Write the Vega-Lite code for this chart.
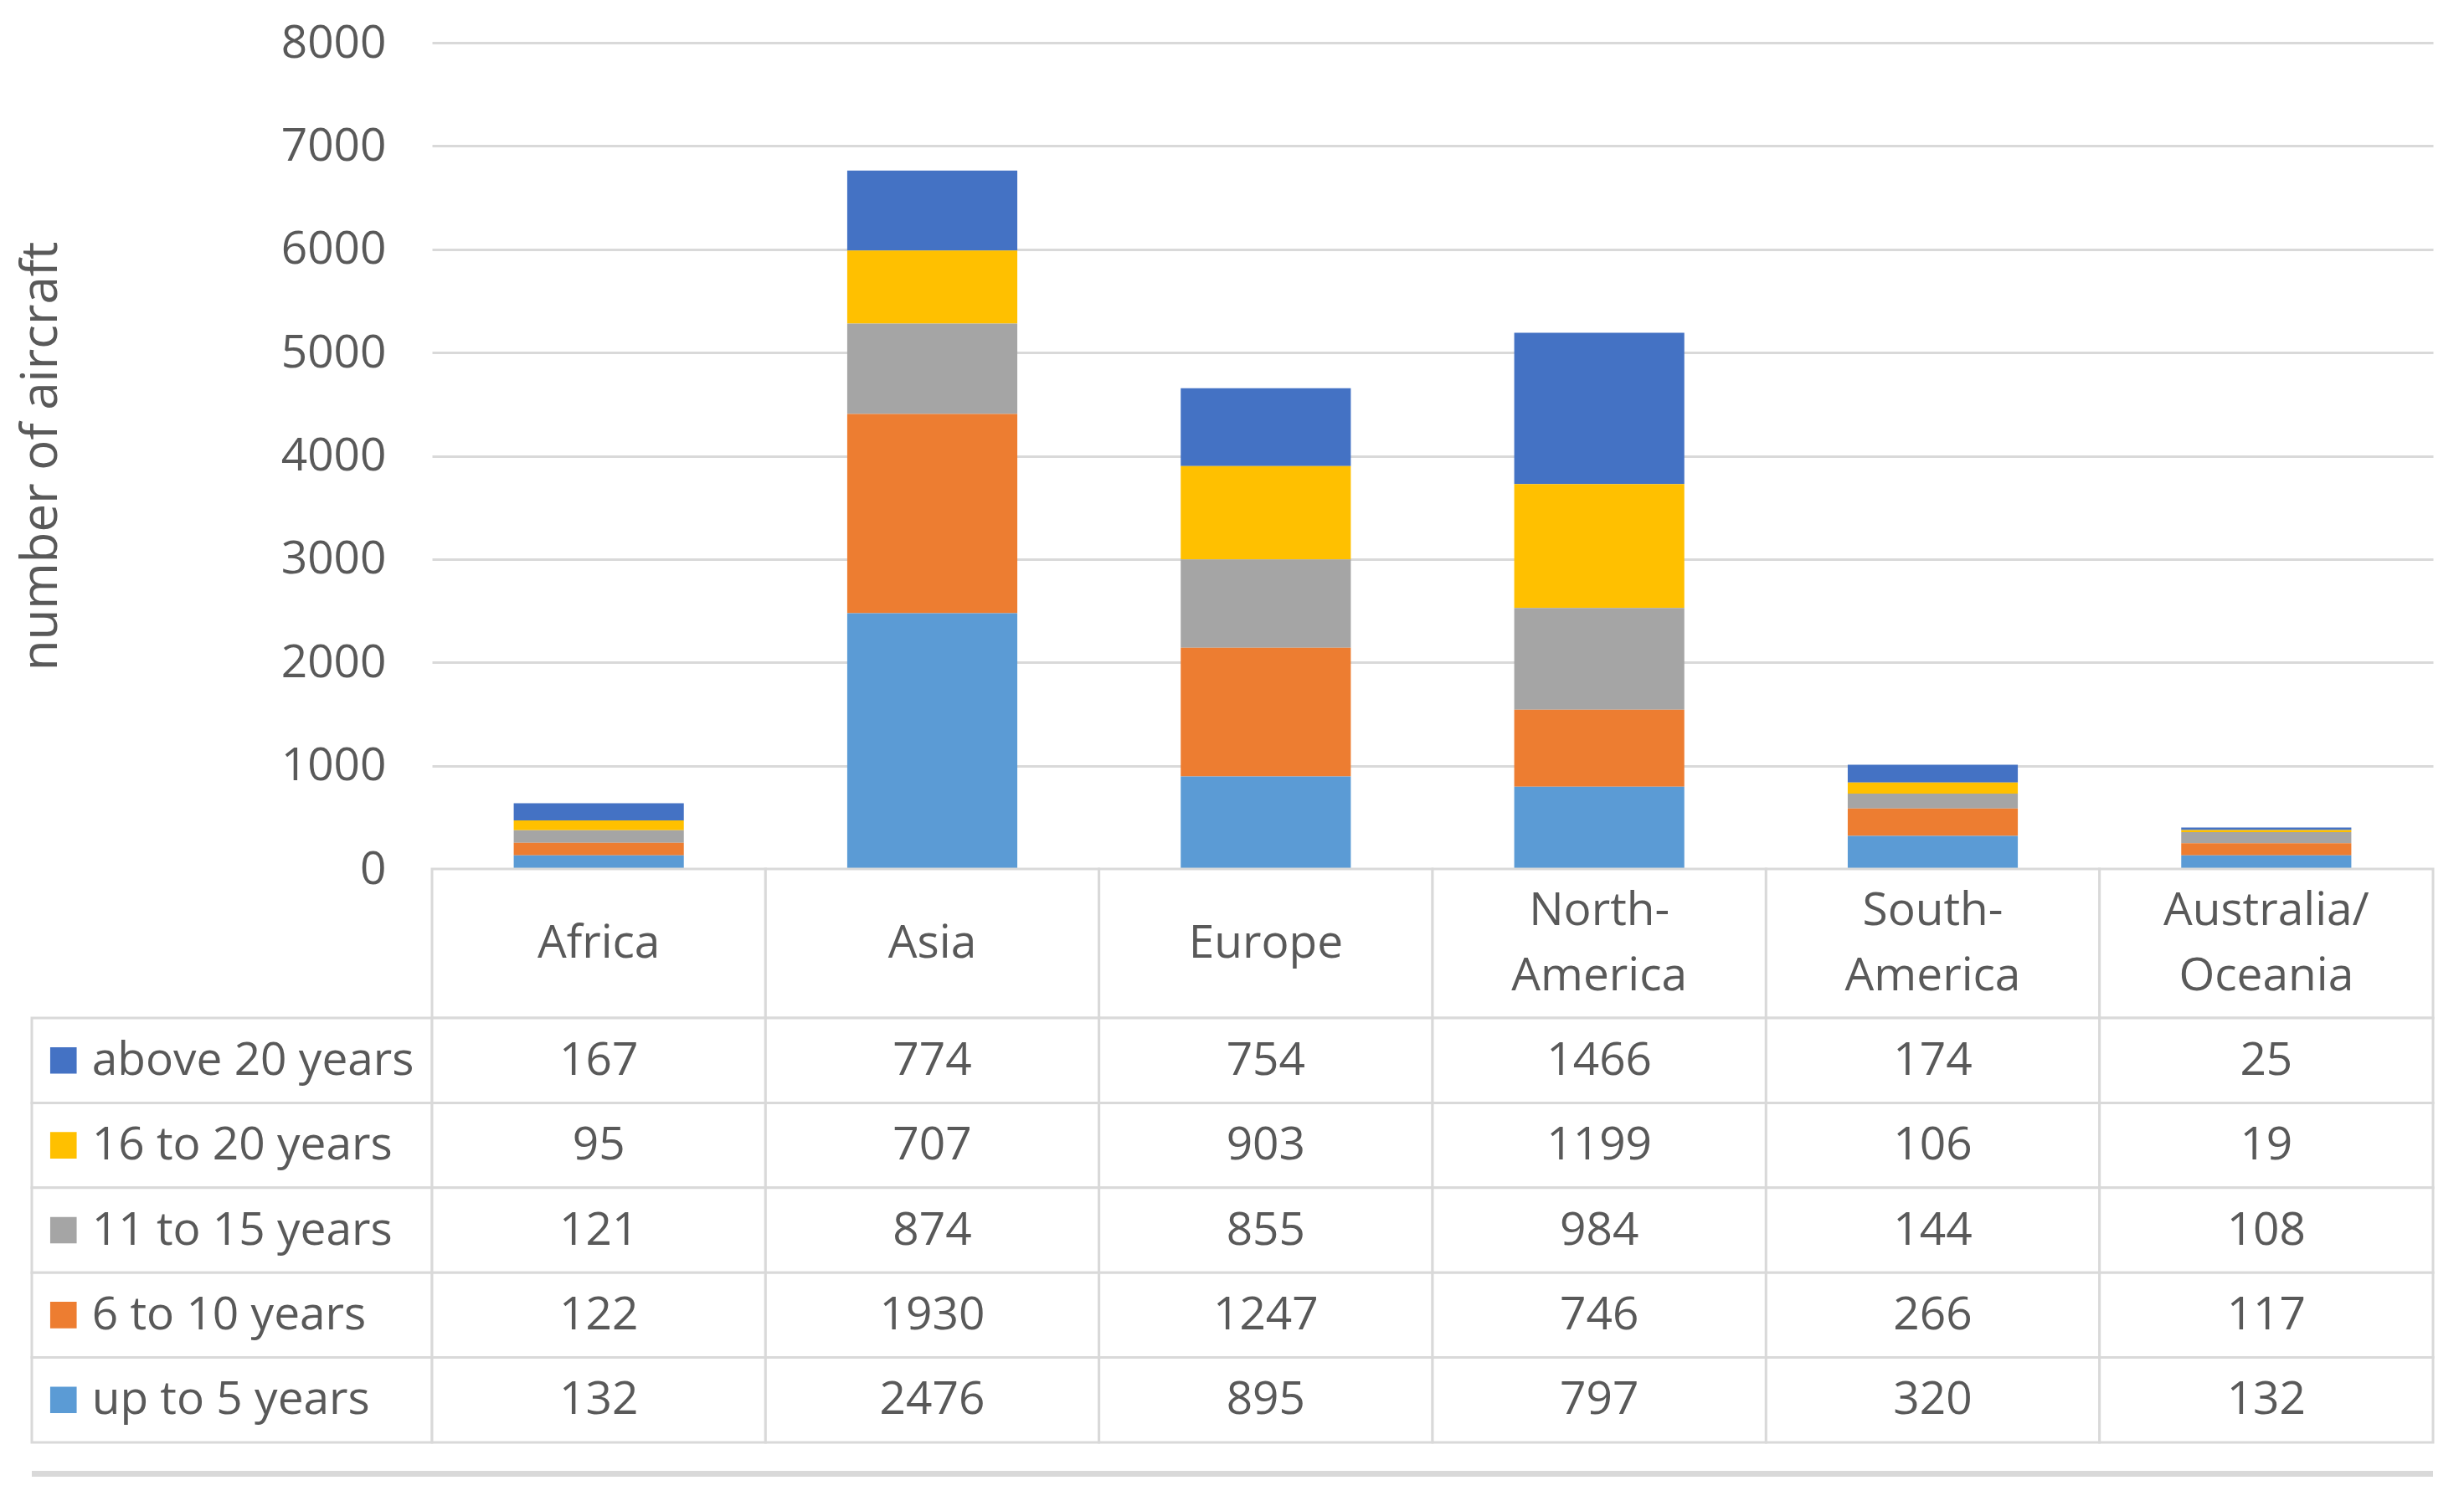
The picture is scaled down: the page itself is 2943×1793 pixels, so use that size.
{
  "$schema": "https://vega.github.io/schema/vega-lite/v6.json",
  "background": "white",
  "padding": {"left": 19, "top": 24, "right": 5, "bottom": 5},
  "datasets": {
    "aircraft": [
      {"region": "Africa", "age": "above 20 years", "ageOrder": 5, "count": 167},
      {"region": "Asia", "age": "above 20 years", "ageOrder": 5, "count": 774},
      {"region": "Europe", "age": "above 20 years", "ageOrder": 5, "count": 754},
      {"region": "North-America", "age": "above 20 years", "ageOrder": 5, "count": 1466},
      {"region": "South-America", "age": "above 20 years", "ageOrder": 5, "count": 174},
      {"region": "Australia/Oceania", "age": "above 20 years", "ageOrder": 5, "count": 25},
      {"region": "Africa", "age": "16 to 20 years", "ageOrder": 4, "count": 95},
      {"region": "Asia", "age": "16 to 20 years", "ageOrder": 4, "count": 707},
      {"region": "Europe", "age": "16 to 20 years", "ageOrder": 4, "count": 903},
      {"region": "North-America", "age": "16 to 20 years", "ageOrder": 4, "count": 1199},
      {"region": "South-America", "age": "16 to 20 years", "ageOrder": 4, "count": 106},
      {"region": "Australia/Oceania", "age": "16 to 20 years", "ageOrder": 4, "count": 19},
      {"region": "Africa", "age": "11 to 15 years", "ageOrder": 3, "count": 121},
      {"region": "Asia", "age": "11 to 15 years", "ageOrder": 3, "count": 874},
      {"region": "Europe", "age": "11 to 15 years", "ageOrder": 3, "count": 855},
      {"region": "North-America", "age": "11 to 15 years", "ageOrder": 3, "count": 984},
      {"region": "South-America", "age": "11 to 15 years", "ageOrder": 3, "count": 144},
      {"region": "Australia/Oceania", "age": "11 to 15 years", "ageOrder": 3, "count": 108},
      {"region": "Africa", "age": "6 to 10 years", "ageOrder": 2, "count": 122},
      {"region": "Asia", "age": "6 to 10 years", "ageOrder": 2, "count": 1930},
      {"region": "Europe", "age": "6 to 10 years", "ageOrder": 2, "count": 1247},
      {"region": "North-America", "age": "6 to 10 years", "ageOrder": 2, "count": 746},
      {"region": "South-America", "age": "6 to 10 years", "ageOrder": 2, "count": 266},
      {"region": "Australia/Oceania", "age": "6 to 10 years", "ageOrder": 2, "count": 117},
      {"region": "Africa", "age": "up to 5 years", "ageOrder": 1, "count": 132},
      {"region": "Asia", "age": "up to 5 years", "ageOrder": 1, "count": 2476},
      {"region": "Europe", "age": "up to 5 years", "ageOrder": 1, "count": 895},
      {"region": "North-America", "age": "up to 5 years", "ageOrder": 1, "count": 797},
      {"region": "South-America", "age": "up to 5 years", "ageOrder": 1, "count": 320},
      {"region": "Australia/Oceania", "age": "up to 5 years", "ageOrder": 1, "count": 132}
    ],
    "regions": [
      {"region": "Africa", "label": "Africa"},
      {"region": "Asia", "label": "Asia"},
      {"region": "Europe", "label": "Europe"},
      {"region": "North-America", "label": "North-\nAmerica"},
      {"region": "South-America", "label": "South-\nAmerica"},
      {"region": "Australia/Oceania", "label": "Australia/\nOceania"}
    ],
    "ages": [
      {"age": "above 20 years"},
      {"age": "16 to 20 years"},
      {"age": "11 to 15 years"},
      {"age": "6 to 10 years"},
      {"age": "up to 5 years"}
    ]
  },
  "columns": 2,
  "spacing": 0,
  "bounds": "flush",
  "align": "each",
  "concat": [
    {
      "width": 1, "height": 1,
      "data": {"values": []},
      "mark": {"type": "point", "opacity": 0},
      "encoding": {}
    },
    {
      "width": 2390, "height": 987,
      "data": {"name": "aircraft"},
      "mark": {"type": "bar"},
      "encoding": {
        "x": {
          "field": "region", "type": "nominal",
          "sort": ["Africa", "Asia", "Europe", "North-America", "South-America", "Australia/Oceania"],
          "scale": {"paddingInner": 0.49, "paddingOuter": 0.245},
          "axis": null
        },
        "y": {
          "field": "count", "type": "quantitative", "stack": "zero",
          "scale": {"domain": [0, 8000], "nice": false},
          "axis": {
            "values": [0, 1000, 2000, 3000, 4000, 5000, 6000, 7000, 8000],
            "format": "d",
            "title": "number of aircraft",
            "grid": true, "gridColor": "#d9d9d9", "gridWidth": 3,
            "domain": false, "ticks": false,
            "labelFont": "Open Sans", "labelFontSize": 55, "labelColor": "#595959", "labelPadding": 55,
            "titleFont": "Open Sans", "titleFontSize": 60, "titleColor": "#595959", "titleFontWeight": "normal",
            "titlePadding": 255
          }
        },
        "order": {"field": "ageOrder", "type": "quantitative", "sort": "ascending"},
        "color": {
          "field": "age", "type": "nominal",
          "scale": {
            "domain": ["up to 5 years", "6 to 10 years", "11 to 15 years", "16 to 20 years", "above 20 years"],
            "range": ["#5B9BD5", "#ED7D31", "#A5A5A5", "#FFC000", "#4472C4"]
          },
          "legend": null
        }
      }
    },
    {
      "width": 1, "height": 1,
      "data": {"values": []},
      "mark": {"type": "point", "opacity": 0},
      "encoding": {}
    },
    {
      "width": 2390, "height": 178,
      "data": {"name": "regions"},
      "encoding": {
        "x": {
          "field": "region", "type": "nominal",
          "sort": ["Africa", "Asia", "Europe", "North-America", "South-America", "Australia/Oceania"],
          "scale": {"paddingInner": 0, "paddingOuter": 0},
          "axis": null
        }
      },
      "layer": [
        {"mark": {"type": "rect", "fill": "white", "stroke": "#d9d9d9", "strokeWidth": 3}},
        {
          "transform": [{"filter": "indexof(datum.label, '\\n') < 0"}],
          "mark": {"type": "text", "font": "Open Sans", "fontSize": 55, "color": "#595959", "baseline": "middle"},
          "encoding": {"text": {"field": "label"}}
        },
        {
          "transform": [{"filter": "indexof(datum.label, '\\n') >= 0"}],
          "mark": {"type": "text", "font": "Open Sans", "fontSize": 55, "color": "#595959", "baseline": "middle", "lineBreak": "\n", "lineHeight": 78, "dy": -39},
          "encoding": {"text": {"field": "label"}}
        }
      ]
    },
    {
      "width": 478, "height": 507,
      "data": {"name": "ages"},
      "encoding": {
        "y": {
          "field": "age", "type": "nominal",
          "sort": ["above 20 years", "16 to 20 years", "11 to 15 years", "6 to 10 years", "up to 5 years"],
          "scale": {"paddingInner": 0, "paddingOuter": 0},
          "axis": null
        }
      },
      "layer": [
        {"mark": {"type": "rect", "fill": "white", "stroke": "#d9d9d9", "strokeWidth": 3}},
        {
          "mark": {"type": "point", "shape": "square", "filled": true, "size": 1000, "opacity": 1},
          "encoding": {
            "x": {"datum": 0.079, "type": "quantitative", "scale": {"domain": [0, 1]}, "axis": null},
            "color": {
              "field": "age", "type": "nominal",
              "scale": {
                "domain": ["up to 5 years", "6 to 10 years", "11 to 15 years", "16 to 20 years", "above 20 years"],
                "range": ["#5B9BD5", "#ED7D31", "#A5A5A5", "#FFC000", "#4472C4"]
              },
              "legend": null
            }
          }
        },
        {
          "mark": {"type": "text", "font": "Open Sans", "fontSize": 55, "color": "#595959", "align": "left", "baseline": "middle"},
          "encoding": {
            "x": {"datum": 0.15, "type": "quantitative", "scale": {"domain": [0, 1]}, "axis": null},
            "text": {"field": "age"}
          }
        }
      ]
    },
    {
      "width": 2390, "height": 507,
      "data": {"name": "aircraft"},
      "encoding": {
        "x": {
          "field": "region", "type": "nominal",
          "sort": ["Africa", "Asia", "Europe", "North-America", "South-America", "Australia/Oceania"],
          "scale": {"paddingInner": 0, "paddingOuter": 0},
          "axis": null
        },
        "y": {
          "field": "age", "type": "nominal",
          "sort": ["above 20 years", "16 to 20 years", "11 to 15 years", "6 to 10 years", "up to 5 years"],
          "scale": {"paddingInner": 0, "paddingOuter": 0},
          "axis": null
        }
      },
      "layer": [
        {"mark": {"type": "rect", "fill": "white", "stroke": "#d9d9d9", "strokeWidth": 3}},
        {
          "mark": {"type": "text", "font": "Open Sans", "fontSize": 55, "color": "#595959", "baseline": "middle"},
          "encoding": {"text": {"field": "count", "type": "quantitative"}}
        }
      ]
    },
    {
      "width": 1, "height": 34,
      "data": {"values": []},
      "mark": {"type": "point", "opacity": 0},
      "encoding": {}
    },
    {
      "width": 1, "height": 34,
      "data": {"values": []},
      "mark": {"type": "point", "opacity": 0},
      "encoding": {}
    },
    {
      "width": 478, "height": 7,
      "data": {"values": [{}]},
      "mark": {"type": "rect", "fill": "#d9d9d9"},
      "encoding": {}
    },
    {
      "width": 2390, "height": 7,
      "data": {"values": [{}]},
      "mark": {"type": "rect", "fill": "#d9d9d9"},
      "encoding": {}
    }
  ],
  "config": {
    "view": {"stroke": null},
    "font": "Open Sans"
  }
}
